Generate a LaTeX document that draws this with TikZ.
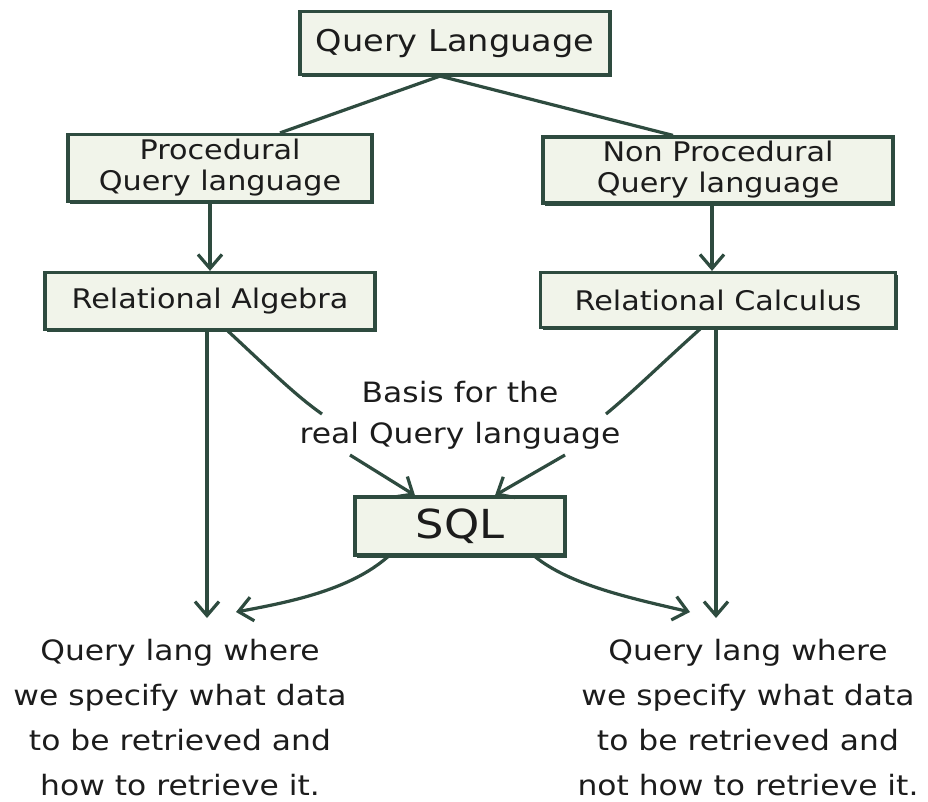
\documentclass[tikz,border=0pt]{standalone}
\usepackage{fontspec}
\setmainfont{DejaVu Sans}[FakeStretch=1.12]
\usetikzlibrary{arrows.meta,shadows}
\definecolor{edge}{HTML}{2E4B3F}
\definecolor{boxfill}{HTML}{F1F4EA}
\definecolor{ink}{HTML}{1C1C1C}
\begin{document}
\begin{tikzpicture}[x=1pt,y=-1pt,
  box/.style={draw=edge, line width=3.2pt, fill=boxfill, text=ink, align=center, inner sep=0pt,
    general shadow={fill=edge, shadow xshift=2.4pt, shadow yshift=-2.8pt}},
  conn/.style={draw=edge, line width=3.2pt},
  arr/.style={conn, -{Straight Barb[length=14pt,width=24pt,line width=3.2pt]}},
  boxtxt/.style={font=\fontsize{27}{31}\selectfont},
  bigtxt/.style={font=\fontsize{30}{36}\selectfont},
  note/.style={text=ink, align=center, inner sep=0pt, font=\fontsize{28}{45}\selectfont}]
\useasboundingbox[fill=white] (0,0) rectangle (928,801);

\node[box, bigtxt, minimum width=310pt, minimum height=63pt] (ql) at (455,43) {Query Language};
\node[box, boxtxt, minimum width=304pt, minimum height=67pt] (proc) at (220,168) {Procedural\\Query language};
\node[box, boxtxt, minimum width=350pt, minimum height=66pt] (nonproc) at (718,170) {Non Procedural\\Query language};
\node[box, boxtxt, minimum width=330pt, minimum height=57pt] (ra) at (210,301) {Relational Algebra};
\node[box, boxtxt, minimum width=355pt, minimum height=55pt] (rc) at (718,300) {Relational Calculus};
\node[box, font=\fontsize{40}{44}\selectfont, minimum width=210pt, minimum height=58pt] (sql) at (460,526) {SQL};

\node[note, font=\fontsize{28}{41}\selectfont] (basis) at (460,415) {Basis for the\\real Query language};
\node[note] (left) at (180,718) {Query lang where\\we specify what data\\to be retrieved and\\how to retrieve it.};
\node[note] (right) at (748,718) {Query lang where\\we specify what data\\to be retrieved and\\not how to retrieve it.};

\coordinate (lt) at (207,618);
\coordinate (rt) at (716,618);
\coordinate (b1) at (322,414);
\coordinate (b2) at (350,455);
\coordinate (b3) at (606,414);
\coordinate (b4) at (565,455);
\coordinate (l2) at (236,612);
\coordinate (r2) at (690,612);

\draw[conn] ([xshift=-15pt]ql.south) -- ([xshift=60pt]proc.north);
\draw[conn] ([xshift=-15pt]ql.south) -- ([xshift=-45pt]nonproc.north);
\draw[arr] ([xshift=-10pt]proc.south) -- ([xshift=0pt]ra.north);
\draw[arr] ([xshift=-6pt]nonproc.south) -- ([xshift=-6pt]rc.north);
\draw[arr] ([xshift=-3pt]ra.south) -- (lt);
\draw[arr] ([xshift=-2pt]rc.south) -- (rt);
\draw[conn] ([xshift=18pt]ra.south) .. controls (270,370) and (295,395) .. (b1);
\draw[arr] (b2) -- ([xshift=-45pt]sql.north);
\draw[conn] ([xshift=-18pt]rc.south) .. controls (660,365) and (635,390) .. (b3);
\draw[arr] (b4) -- ([xshift=35pt]sql.north);
\draw[arr] ([xshift=-72pt]sql.south) .. controls (350,590) and (290,602) .. (l2);
\draw[arr] ([xshift=75pt]sql.south) .. controls (570,585) and (630,598) .. (r2);
\end{tikzpicture}
\end{document}
